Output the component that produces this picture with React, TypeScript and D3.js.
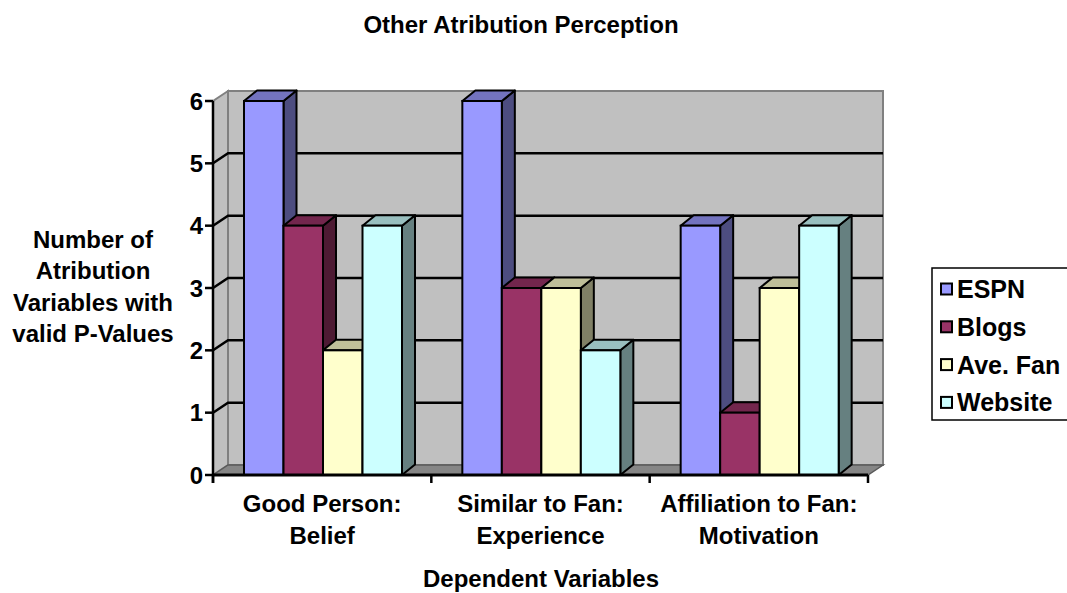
import React from "react";
import * as d3 from "d3";

const title = "Other Atribution Perception";
const xTitle = "Dependent Variables";
const yTitleLines = ["Number of", "Atribution", "Variables with", "valid P-Values"];
const categories = ["Good Person: Belief", "Similar to Fan: Experience", "Affiliation to Fan: Motivation"];
const categoryLines = [
  ["Good Person:", "Belief"],
  ["Similar to Fan:", "Experience"],
  ["Affiliation to Fan:", "Motivation"],
];
const seriesNames = ["ESPN", "Blogs", "Ave. Fan", "Website"];
const espn = [6, 6, 4];
const blogs = [4, 3, 1];
const aveFan = [2, 3, 3];
const website = [4, 2, 4];
const yTicks = [0, 1, 2, 3, 4, 5, 6];

const seriesValues = [espn, blogs, aveFan, website];
const frontColors = ["#9999FF", "#993366", "#FFFFCC", "#CCFFFF"];
const topColors = ["#7373BF", "#73264D", "#BFBF99", "#99BFBF"];
const sideColors = ["#4D4D80", "#4D1A33", "#808066", "#668080"];

const FONT = "'Liberation Sans', Arial, Helvetica, sans-serif";

export default function App() {
  const W = 1067, H = 593;
  const x0 = 213, x1 = 868;
  const wdx = 15, wdy = -10; // wall depth
  const bdx = 13, bdy = -10.5; // bar depth
  const y = d3.scaleLinear().domain([0, 6]).range([475, 101]);
  const xc = d3.scaleBand().domain(categories).range([x0, x1]).paddingInner(0).paddingOuter(0);
  const xs = d3.scaleBand().domain(seriesNames).range([31, 31 + 158]).padding(0);

  const pts = (arr: number[][]) => arr.map((p) => p.join(",")).join(" ");
  const yTop = y(6), yBot = y(0);

  const bars: JSX.Element[] = [];
  categories.forEach((c, ci) => {
    seriesNames.forEach((s, si) => {
      const v = seriesValues[si][ci];
      const bx = (xc(c) as number) + (xs(s) as number);
      const bw = xs.bandwidth();
      const yt = y(v);
      bars.push(
        <g key={c + s}>
          <polygon
            points={pts([[bx + bw, yt], [bx + bw + bdx, yt + bdy], [bx + bw + bdx, yBot + bdy], [bx + bw, yBot]])}
            fill={sideColors[si]} stroke="#000" strokeWidth={2} strokeLinejoin="round"
          />
          <polygon
            points={pts([[bx, yt], [bx + bdx, yt + bdy], [bx + bw + bdx, yt + bdy], [bx + bw, yt]])}
            fill={topColors[si]} stroke="#000" strokeWidth={2} strokeLinejoin="round"
          />
          <rect x={bx} y={yt} width={bw} height={yBot - yt} fill={frontColors[si]} stroke="#000" strokeWidth={2} />
        </g>
      );
    });
  });

  const catBounds = [x0, ...categories.map((c) => (xc(c) as number) + xc.bandwidth())];

  return (
    <svg width={W} height={H} style={{ position: "absolute", left: 0, top: 0, background: "#fff" }} fontFamily={FONT} fontWeight="bold">
      <rect x={0} y={0} width={W} height={H} fill="#fff" />
      <text x={521} y={33} textAnchor="middle" fontSize={24}>{title}</text>

      {/* side wall */}
      <polygon points={pts([[x0, yBot], [x0 + wdx, yBot + wdy], [x0 + wdx, yTop + wdy], [x0, yTop]])} fill="#C0C0C0" stroke="#808080" strokeWidth={2} />
      {/* back wall */}
      <rect x={x0 + wdx} y={yTop + wdy} width={x1 + wdx - (x0 + wdx)} height={yBot - yTop} fill="#C0C0C0" stroke="#808080" strokeWidth={2} />
      {/* floor */}
      <polygon points={pts([[x0, yBot], [x0 + wdx, yBot + wdy], [x1 + wdx, yBot + wdy], [x1, yBot]])} fill="#868686" stroke="#5a5a5a" strokeWidth={1.5} />
      {/* gridlines */}
      {yTicks.filter((t) => t > 0 && t < 6).map((t) => (
        <polyline key={t} points={pts([[x0, y(t)], [x0 + wdx, y(t) + wdy], [x1 + wdx, y(t) + wdy]])} fill="none" stroke="#000" strokeWidth={2.5} />
      ))}

      {bars}

      {/* value axis */}
      <line x1={x0} y1={yTop} x2={x0} y2={yBot + 8} stroke="#000" strokeWidth={2.5} />
      {yTicks.map((t) => (
        <g key={t}>
          <line x1={x0 - 8} y1={y(t)} x2={x0} y2={y(t)} stroke="#000" strokeWidth={2.5} />
          <text x={203} y={y(t)} dy="0.36em" textAnchor="end" fontSize={24}>{t}</text>
        </g>
      ))}
      {/* category axis */}
      <line x1={x0} y1={yBot} x2={x1} y2={yBot} stroke="#000" strokeWidth={3} />
      {catBounds.map((b, i) => (
        <line key={i} x1={b} y1={yBot} x2={b} y2={yBot + 8} stroke="#000" strokeWidth={2.5} />
      ))}
      {categories.map((c, ci) => (
        <text key={c} textAnchor="middle" fontSize={24}>
          {categoryLines[ci].map((ln, li) => (
            <tspan key={li} x={(xc(c) as number) + xc.bandwidth() / 2} y={512 + li * 31.5}>{ln}</tspan>
          ))}
        </text>
      ))}
      <text x={541} y={587} textAnchor="middle" fontSize={24}>{xTitle}</text>
      <text textAnchor="middle" fontSize={24}>
        {yTitleLines.map((ln, i) => (
          <tspan key={i} x={93} y={248 + i * 31.3}>{ln}</tspan>
        ))}
      </text>

      {/* legend */}
      <rect x={932} y={268} width={200} height={152} fill="#fff" stroke="#000" strokeWidth={1.5} />
      {seriesNames.map((s, i) => {
        const cy = 289 + i * 37.8;
        return (
          <g key={s}>
            <rect x={941} y={cy - 5.5} width={11} height={11} fill={frontColors[i]} stroke="#000" strokeWidth={2} />
            <text x={957} y={cy} dy="0.36em" fontSize={25}>{s}</text>
          </g>
        );
      })}
    </svg>
  );
}
